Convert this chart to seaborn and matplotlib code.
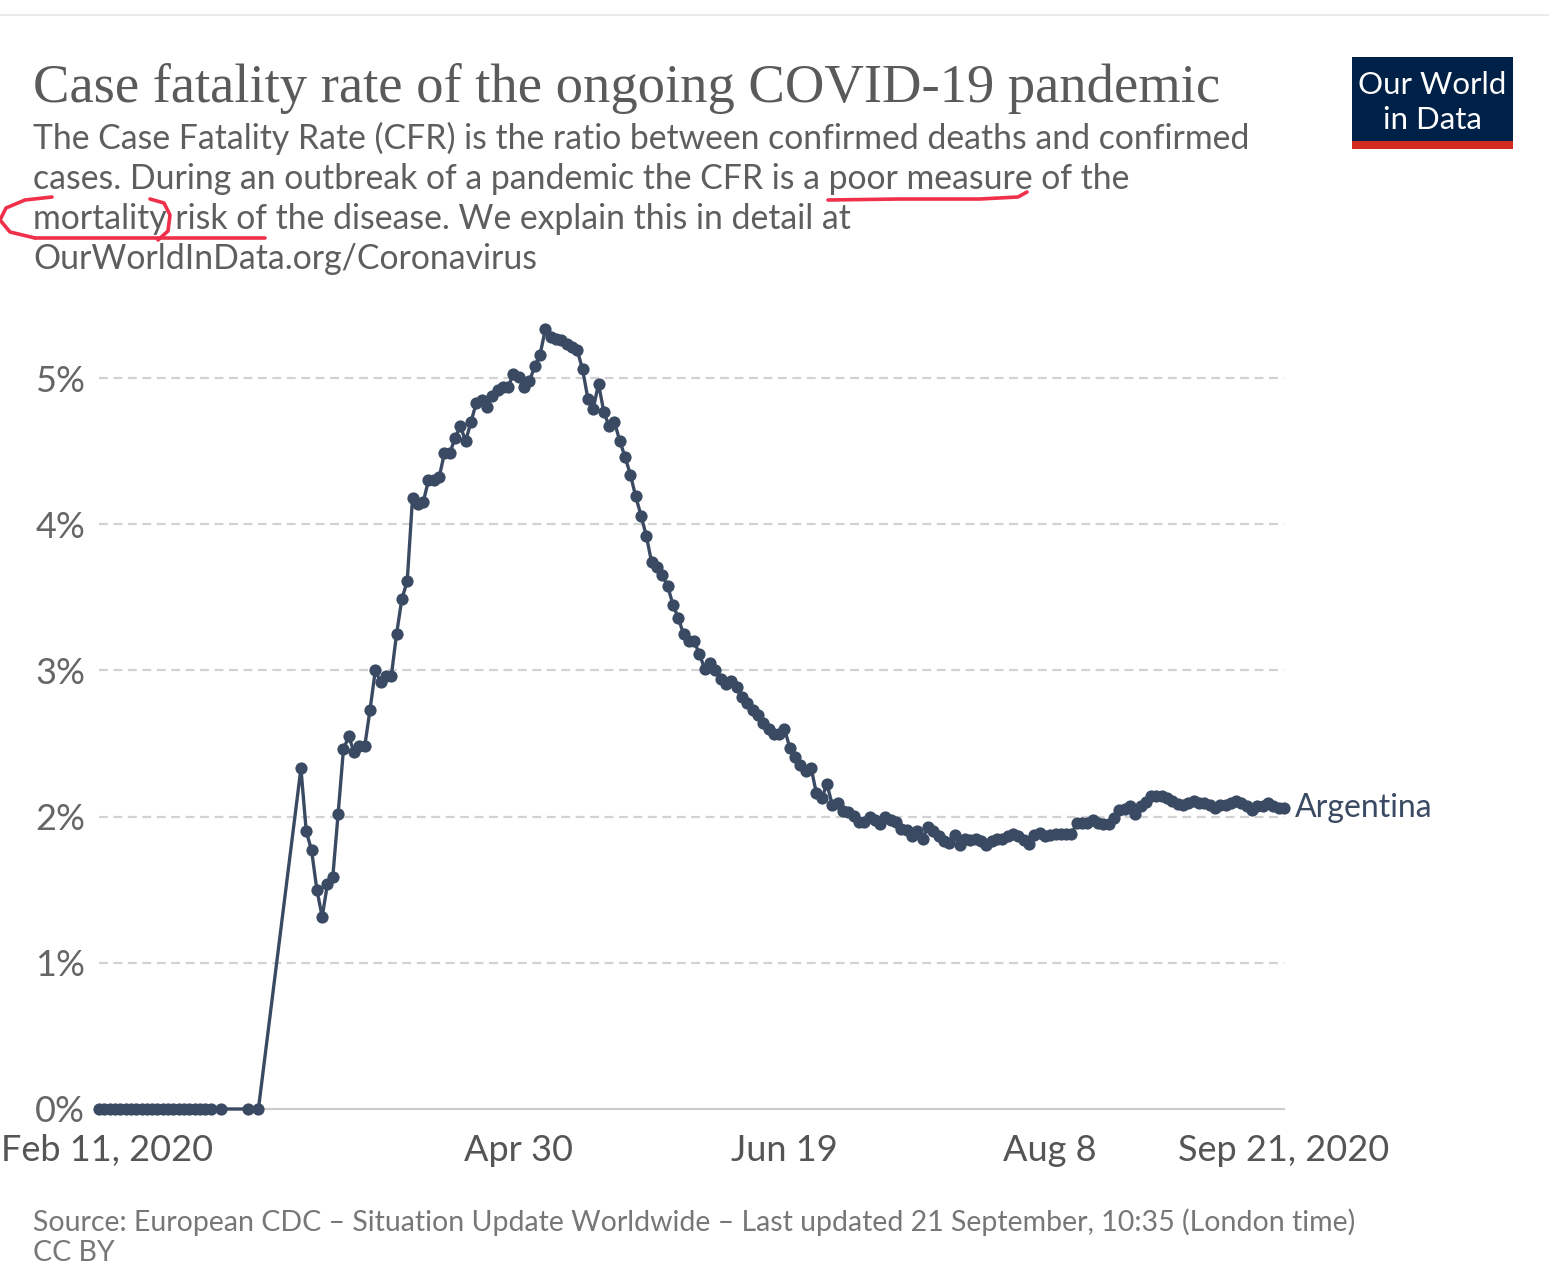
import pandas as pd
import matplotlib.pyplot as plt
import matplotlib.transforms as mtransforms
from matplotlib.patches import Rectangle
from matplotlib.lines import Line2D
import seaborn as sns

# CFR of Argentina in %, one value per day from Feb 11, 2020 (None = no data that day)
cfr_pct = [
    0, 0, 0, 0, 0, 0, 0, 0, 0, 0,
    0, 0, 0, 0, 0, 0, 0, 0, 0, 0,
    0, 0, None, 0, None, None, None, None, 0, None,
    0, None, None, None, None, None, None, None, 2.33, 1.90,
    1.77, 1.50, 1.315, 1.54, 1.59, 2.02, 2.46, 2.55, 2.44, 2.48,
    2.48, 2.73, 3.00, 2.92, 2.96, 2.96, 3.25, 3.49, 3.61, 4.18,
    4.14, 4.15, 4.30, 4.30, 4.32, 4.485, 4.485, 4.59, 4.67, 4.57,
    4.70, 4.83, 4.85, 4.80, 4.88, 4.92, 4.94, 4.94, 5.03, 5.01,
    4.94, 4.98, 5.08, 5.16, 5.335, 5.28, 5.27, 5.26, 5.23, 5.21,
    5.19, 5.06, 4.86, 4.79, 4.96, 4.77, 4.67, 4.70, 4.57, 4.46,
    4.34, 4.19, 4.06, 3.92, 3.74, 3.705, 3.65, 3.58, 3.45, 3.36,
    3.25, 3.20, 3.20, 3.11, 3.01, 3.05, 3.00, 2.94, 2.905, 2.93,
    2.89, 2.82, 2.78, 2.73, 2.695, 2.64, 2.60, 2.565, 2.565, 2.60,
    2.47, 2.405, 2.35, 2.31, 2.335, 2.16, 2.13, 2.22, 2.08, 2.09,
    2.04, 2.03, 2.005, 1.965, 1.965, 2.00, 1.98, 1.95, 2.00, 1.98,
    1.96, 1.915, 1.91, 1.865, 1.905, 1.85, 1.93, 1.905, 1.87, 1.835,
    1.82, 1.875, 1.805, 1.85, 1.84, 1.85, 1.83, 1.805, 1.83, 1.85,
    1.85, 1.865, 1.88, 1.865, 1.84, 1.81, 1.875, 1.89, 1.87, 1.875,
    1.88, 1.88, 1.88, 1.88, 1.955, 1.955, 1.955, 1.975, 1.955, 1.95,
    1.95, 1.99, 2.045, 2.05, 2.07, 2.02, 2.07, 2.10, 2.14, 2.14,
    2.14, 2.125, 2.11, 2.085, 2.08, 2.09, 2.11, 2.09, 2.095, 2.08,
    2.06, 2.08, 2.08, 2.09, 2.11, 2.09, 2.07, 2.045, 2.07, 2.075,
    2.09, 2.075, 2.06, 2.06,
]
start_date = "2020-02-11"
country = "Argentina"

x_tick_dates = ["2020-02-11", "2020-04-30", "2020-06-19", "2020-08-08", "2020-09-21"]
x_tick_labels = ["Feb 11, 2020", "Apr 30", "Jun 19", "Aug 8", "Sep 21, 2020"]
y_ticks = [0, 1, 2, 3, 4, 5]

title = "Case fatality rate of the ongoing COVID-19 pandemic"
subtitle_lines = [
    "The Case Fatality Rate (CFR) is the ratio between confirmed deaths and confirmed",
    "cases. During an outbreak of a pandemic the CFR is a poor measure of the",
    "mortality risk of the disease. We explain this in detail at",
    "OurWorldInData.org/Coronavirus",
]
source_lines = [
    "Source: European CDC \u2013 Situation Update Worldwide \u2013 Last updated 21 September, 10:35 (London time)",
    "CC BY",
]

df = pd.DataFrame({"date": pd.date_range(start_date, periods=len(cfr_pct)),
                   "cfr": cfr_pct}).dropna()

sns.set_style("white")
plt.rcParams['font.family'] = ['Lato', 'DejaVu Sans']

W, H = 1549, 1284
fig = plt.figure(figsize=(W / 100, H / 100), dpi=100)


def fx(px):
    return px / W


def fy(py):
    return 1 - py / H


ax = fig.add_axes([fx(99), fy(1109), fx(1284) - fx(99), (1109 - 305) / H])

line_color = "#3a4a63"
sns.lineplot(data=df, x="date", y="cfr", marker="o", markersize=8.8,
             markeredgewidth=0, color=line_color, linewidth=2.4, ax=ax,
             clip_on=False, zorder=5)

ax.set_xlim(pd.Timestamp(x_tick_dates[0]), pd.Timestamp(x_tick_dates[-1]))
ax.set_ylim(0, 5.5)
ax.set_xticks([pd.Timestamp(d) for d in x_tick_dates])
ax.set_xticklabels(x_tick_labels)
ax.set_yticks(y_ticks)
ax.set_yticklabels([f"{v}%" for v in y_ticks])
ax.set_xlabel("")
ax.set_ylabel("")

for s in ["top", "right", "left"]:
    ax.spines[s].set_visible(False)
ax.spines["bottom"].set_color("#cccccc")
ax.spines["bottom"].set_linewidth(1.5)

ax.yaxis.grid(True, linestyle=(0, (4, 2.5)), color="#d2d2d2", linewidth=1.6)
ax.xaxis.grid(False)
ax.tick_params(axis="y", length=0, pad=10, labelsize=26, labelcolor="#666666")
ax.tick_params(axis="x", length=9, width=1.3, color="#bbbbbb", pad=9,
               labelsize=26, labelcolor="#555555")

# first date label is pushed right so it stays inside the image
first_lbl = ax.get_xticklabels()[0]
first_lbl.set_transform(first_lbl.get_transform() +
                        mtransforms.ScaledTranslation(8 / 100, 0, fig.dpi_scale_trans))

last = df.iloc[-1]
ax.annotate(country, xy=(last["date"], last["cfr"]), xytext=(8, 0),
            textcoords="offset points", va="center", ha="left",
            fontsize=23, color=line_color, annotation_clip=False)

# header
fig.add_artist(Line2D([0, 1], [fy(15), fy(15)], transform=fig.transFigure,
                      color="#e8e8e8", lw=1.2))
fig.text(fx(33), fy(102), title, family=["Liberation Serif", "DejaVu Serif"],
         fontsize=39.3, color="#5a5a5a", va="baseline", ha="left")
for i, txt in enumerate(subtitle_lines):
    fig.text(fx(33), fy(149 + 40 * i), txt, fontsize=24.3, color="#5e5e5e",
             va="baseline", ha="left")

# logo
fig.add_artist(Rectangle((fx(1352), fy(141)), fx(1513) - fx(1352), (141 - 57) / H,
                         transform=fig.transFigure, color="#002147", lw=0))
fig.add_artist(Rectangle((fx(1352), fy(149)), fx(1513) - fx(1352), 8 / H,
                         transform=fig.transFigure, color="#d42b21", lw=0))
fig.text(fx(1432), fy(94), "Our World", fontsize=22.5, color="white",
         ha="center", va="baseline")
fig.text(fx(1432), fy(129), "in Data", fontsize=22.5, color="white",
         ha="center", va="baseline")

# footer
for i, txt in enumerate(source_lines):
    fig.text(fx(33), fy(1231 + 30 * i), txt, fontsize=20.5, color="#777777",
             va="baseline", ha="left")

# red hand-drawn marks on the screenshot
red = "#f0304a"
marks = [
    [(828, 200), (900, 199), (980, 199), (1018, 197), (1027, 192)],
    [(35, 238), (150, 238), (265, 238)],
    [(52, 197), (25, 200), (6, 208), (0, 220), (10, 232), (35, 238)],
    [(150, 199), (164, 203), (170, 215), (168, 231), (158, 240)],
]
for pts in marks:
    xs = [fx(p[0]) for p in pts]
    ys = [fy(p[1]) for p in pts]
    fig.add_artist(Line2D(xs, ys, transform=fig.transFigure, color=red,
                          lw=2.6, solid_capstyle="round"))

fig.savefig("out.png", dpi=100)
